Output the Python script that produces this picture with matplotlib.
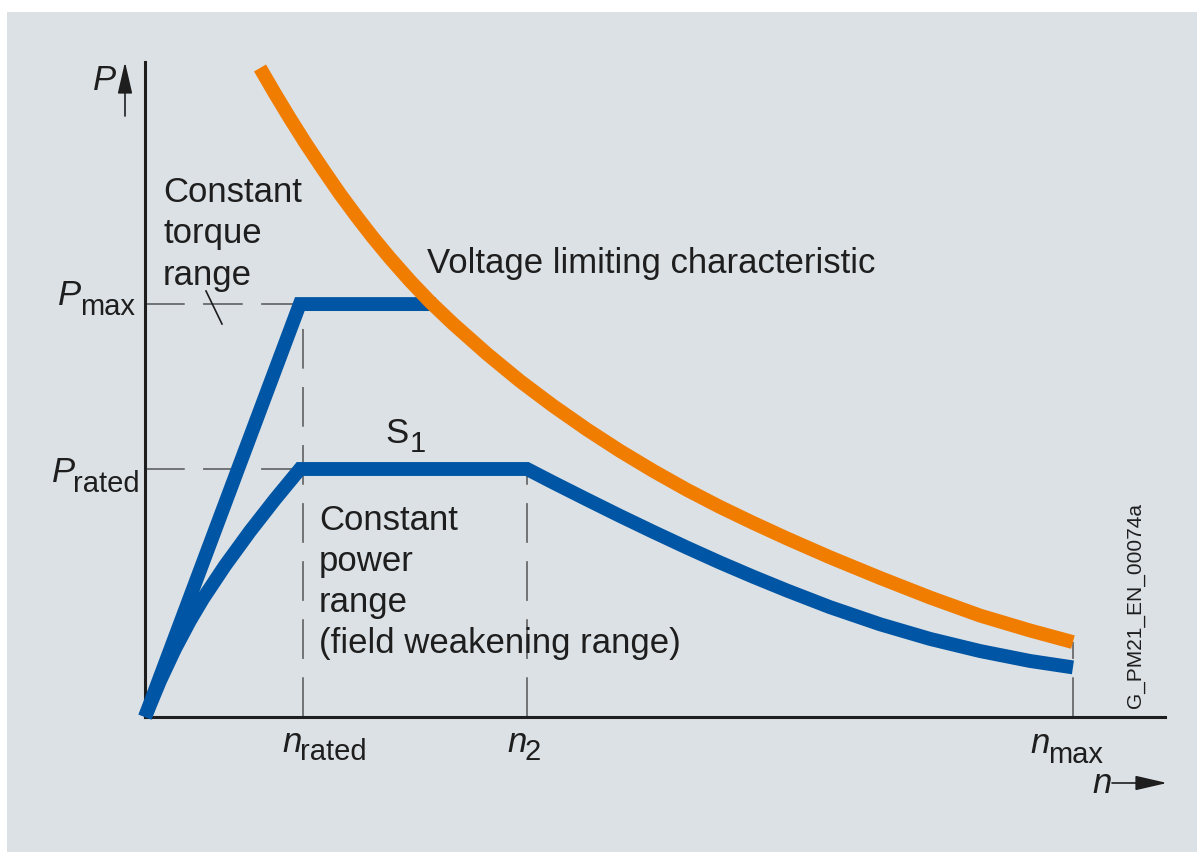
import matplotlib
matplotlib.use("Agg")
import matplotlib.pyplot as plt
from matplotlib.patches import Rectangle
from matplotlib.lines import Line2D

plt.rcParams['font.family'] = ['Liberation Sans', 'DejaVu Sans']

# Figure is laid out in pixels of the 1197x853 reference
W, H = 1197, 853
BG = '#dce1e5'
BLUE = '#0055a4'
ORANGE = '#f07d00'
INK = '#1e1e1e'
DASH = '#555555'

# Characteristic points (n in units of n_rated, P in units of P_rated)
N_RATED = 1.0
N_2 = 2.418
N_MAX = 5.873
P_RATED = 1.0
P_MAX = 1.665

# Constant torque range curve
torque_n = [0.0, 0.98, 1.84]
torque_p = [0.0, P_MAX, P_MAX]

# S1 curve (constant power / field weakening)
s1_n = [0.0, 0.095, 0.190, 0.285, 0.367, 0.506, 0.665, 0.823, 0.981,
        2.418, 2.582, 2.797, 3.006, 3.215, 3.430, 3.639, 3.848, 4.063,
        4.335, 4.652, 4.968, 5.285, 5.601, 5.873]
s1_p = [0.0, 0.146, 0.275, 0.389, 0.477, 0.610, 0.749, 0.878, 1.0,
        1.0, 0.946, 0.877, 0.811, 0.747, 0.683, 0.623, 0.566, 0.510,
        0.443, 0.374, 0.315, 0.266, 0.226, 0.200]

# Voltage limiting characteristic
volt_n = [0.728, 0.823, 0.918, 1.019, 1.127, 1.234, 1.342, 1.443, 1.551,
          1.677, 1.804, 1.949, 2.165, 2.373, 2.582, 2.798, 3.006, 3.215,
          3.430, 3.639, 3.848, 4.063, 4.335, 4.652, 4.968, 5.285, 5.601, 5.873]
volt_p = [2.617, 2.513, 2.413, 2.311, 2.208, 2.109, 2.016, 1.933, 1.850,
          1.759, 1.674, 1.586, 1.464, 1.355, 1.255, 1.159, 1.073, 0.993,
          0.916, 0.847, 0.783, 0.720, 0.644, 0.561, 0.482, 0.409, 0.349, 0.302]

fig = plt.figure(figsize=(W / 100, H / 100), dpi=100)
fig.patch.set_facecolor('white')
fig.patches.append(Rectangle((7 / W, 0), 1, 1 - 13 / H, transform=fig.transFigure,
                             facecolor=BG, edgecolor='none', zorder=-5))

ax = fig.add_axes([145 / W, (H - 718) / H, 1020 / W, 655 / H])
ax.set_facecolor('none')
ax.set_xlim(0, 1020 / 158)
ax.set_ylim(0, 655 / 248)
for side in ('top', 'right'):
    ax.spines[side].set_visible(False)
for side in ('left', 'bottom'):
    ax.spines[side].set_linewidth(2.2)
    ax.spines[side].set_color(INK)
ax.set_xticks([])
ax.set_yticks([])

# dashed guide lines
dash_kw = dict(color=DASH, lw=1.1, dashes=(26, 12), zorder=1, clip_on=False)
ax.plot([0, 0.98], [P_MAX, P_MAX], **dash_kw)
ax.plot([0, 0.98], [P_RATED, P_RATED], **dash_kw)
ax.plot([N_RATED, N_RATED], [0, P_MAX], **dash_kw)
ax.plot([N_2, N_2], [0, P_RATED], **dash_kw)
ax.plot([N_MAX, N_MAX], [0, volt_p[-1]], **dash_kw)

curve_kw = dict(lw=10, solid_capstyle='butt', clip_on=False)
ax.plot(torque_n, torque_p, color=BLUE, zorder=3, solid_joinstyle='miter', **curve_kw)
ax.plot(s1_n, s1_p, color=BLUE, zorder=3, solid_joinstyle='miter', **curve_kw)
ax.plot(volt_n, volt_p, color=ORANGE, zorder=4, solid_joinstyle='round', **curve_kw)


def put(x, y, s, size=25, **kw):
    """Place text at reference pixel position (x, baseline y)."""
    kw.setdefault('va', 'baseline')
    kw.setdefault('ha', 'left')
    fig.text(x / W, 1 - y / H, s, fontsize=size, color=INK, **kw)


# axis labels and arrows
put(93, 90, 'P', style='italic')
put(1092, 793, 'n', style='italic')
arrow = dict(arrowstyle='-|>,head_length=1.95,head_width=0.45', mutation_scale=10,
             lw=1.2, color=INK, shrinkA=0, shrinkB=0)
ax.annotate('', xy=(125, H - 63), xytext=(125, H - 117), xycoords='figure pixels',
            arrowprops=arrow, annotation_clip=False)
ax.annotate('', xy=(1167, H - 784), xytext=(1112, H - 784), xycoords='figure pixels',
            arrowprops=arrow, annotation_clip=False)

# level / speed labels
put(58, 305, 'P', style='italic')
put(80, 315, 'max', size=21)
put(52, 482, 'P', style='italic')
put(73, 492, 'rated', size=21)
put(282, 752, 'n', style='italic')
put(300, 760, 'rated', size=21)
put(507, 752, 'n', style='italic')
put(525, 760, '2', size=21)
put(1030, 753, 'n', style='italic')
put(1048, 763, 'max', size=21)

# annotations
for i, line in enumerate(['Constant', 'torque', 'range']):
    put(163, 202 + i * 41.5, line)
fig.lines.append(Line2D([206 / W, 222 / W], [1 - 292 / H, 1 - 325 / H],
                        transform=fig.transFigure, color=INK, lw=1.2))
put(427, 273, 'Voltage limiting characteristic')
put(385, 443, 'S')
put(410, 452, '1', size=21)
for i, line in enumerate(['Constant', 'power', 'range', '(field weakening range)']):
    put(319, 530 + i * 41, line)
fig.text(1135 / W, 1 - 708 / H, 'G_PM21_EN_00074a', fontsize=15, color=INK,
         rotation=90, ha='center', va='bottom')

fig.savefig('out.png', dpi=100)
